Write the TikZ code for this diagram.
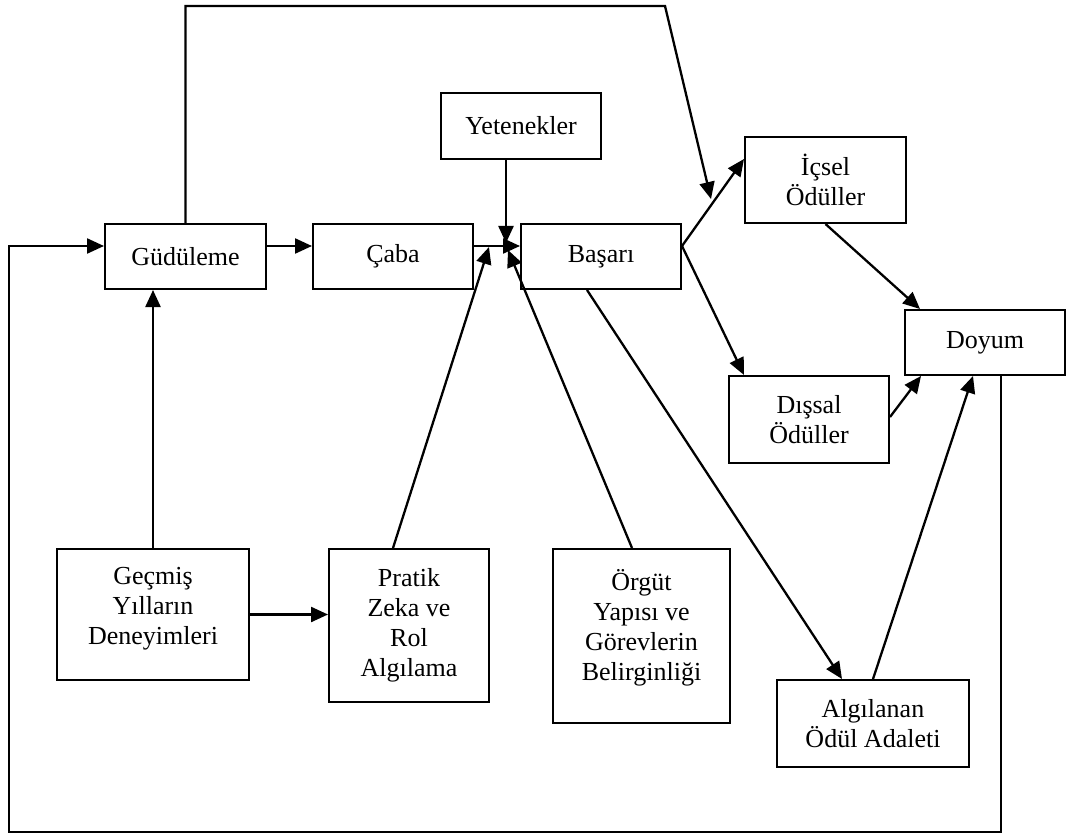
\documentclass[tikz,border=0pt]{standalone}
\usepackage{fontspec}
\setmainfont{Liberation Serif}
\usetikzlibrary{arrows.meta}
\begin{document}
\begin{tikzpicture}[x=1pt,y=-1pt,
  box/.style={draw=black, line width=2pt, rectangle, inner sep=0pt, align=center,
    font=\fontsize{26pt}{30pt}\selectfont},
  txt/.style={inner sep=0pt, align=center, font=\fontsize{26pt}{30pt}\selectfont},
  con/.style={line width=2.3pt, draw=black},
  arr/.style={con, -{Triangle[length=17pt,width=15pt]}}]
\useasboundingbox (0,0) rectangle (1067,834);
% boxes
\node[box, minimum width=161pt, minimum height=65pt] (gud) at (185.5,256.5) {Güdüleme};
\node[box, minimum width=160pt, minimum height=65pt] (caba) at (393,256.5) {Çaba};
\node[box, minimum width=160pt, minimum height=65pt] (bas) at (601,256.5) {Başarı};
\node[box, minimum width=160pt, minimum height=66pt] (yet) at (521,126) {Yetenekler};
\node[box, minimum width=161pt, minimum height=86pt] (ic) at (825.5,180) {İçsel\\Ödüller};
\node[box, minimum width=160pt, minimum height=87pt] (dis) at (809,419.5) {Dışsal\\Ödüller};
\node[box, minimum width=160pt, minimum height=65pt] (doy) at (985,342.5) {Doyum};
\node[box, minimum width=192pt, minimum height=131pt] (gec) at (153,614.5) {};
\node[txt] (gect) at (153,609) {Geçmiş\\Yılların\\Deneyimleri};
\node[box, minimum width=160pt, minimum height=153pt] (prat) at (409,625.5) {Pratik\\Zeka ve\\Rol\\Algılama};
\node[box, minimum width=177pt, minimum height=174pt] (org) at (641.5,636) {};
\node[txt] (orgt) at (641.5,628) {Örgüt\\Yapısı ve\\Görevlerin\\Belirginliği};
\node[box, minimum width=192pt, minimum height=87pt] (alg) at (873,723.5) {Algılanan\\Ödül Adaleti};
% helper coordinates
\coordinate (rowA) at (0,246);
\coordinate (tipY) at (506,243);
\coordinate (tipP) at (489,247);
\coordinate (tipO) at (508,250);
\coordinate (topR) at (665,6);
\coordinate (tipT) at (711,199);
\coordinate (fbR) at (1001,832);
\coordinate (fbL) at (9,832);
% connectors
\draw[arr] (gud.east |- rowA) -- (caba.west |- rowA);
\draw[arr] (caba.east |- rowA) -- (bas.west |- rowA);
\draw[arr] (yet.south -| tipY) -- (tipY);
\draw[arr] ([xshift=-16pt]prat.north) -- (tipP);
\draw[arr] ([xshift=-9.5pt]org.north) -- (tipO);
\draw[arr] (bas.east |- rowA) -- ([yshift=21pt]ic.west);
\draw[arr] (bas.east |- rowA) -- ([xshift=-65pt]dis.north);
\draw[arr] ([xshift=-14pt]bas.south) -- ([xshift=-31pt]alg.north);
\draw[arr] (alg.north) -- ([xshift=-12pt]doy.south);
\draw[arr] ([yshift=2.5pt]dis.east) -- ([xshift=-64pt]doy.south);
\draw[arr] (ic.south) -- ([xshift=-65pt]doy.north);
\draw[arr] (gec.north) -- (gud.south -| gec.north);
\draw[arr] (gec.east) -- (prat.west |- gec.east);
\draw[arr] (gud.north) |- (topR) -- (tipT);
\draw[arr] (fbR |- doy.south) -- (fbR) -- (fbL) |- (gud.west |- rowA);
\end{tikzpicture}
\end{document}
